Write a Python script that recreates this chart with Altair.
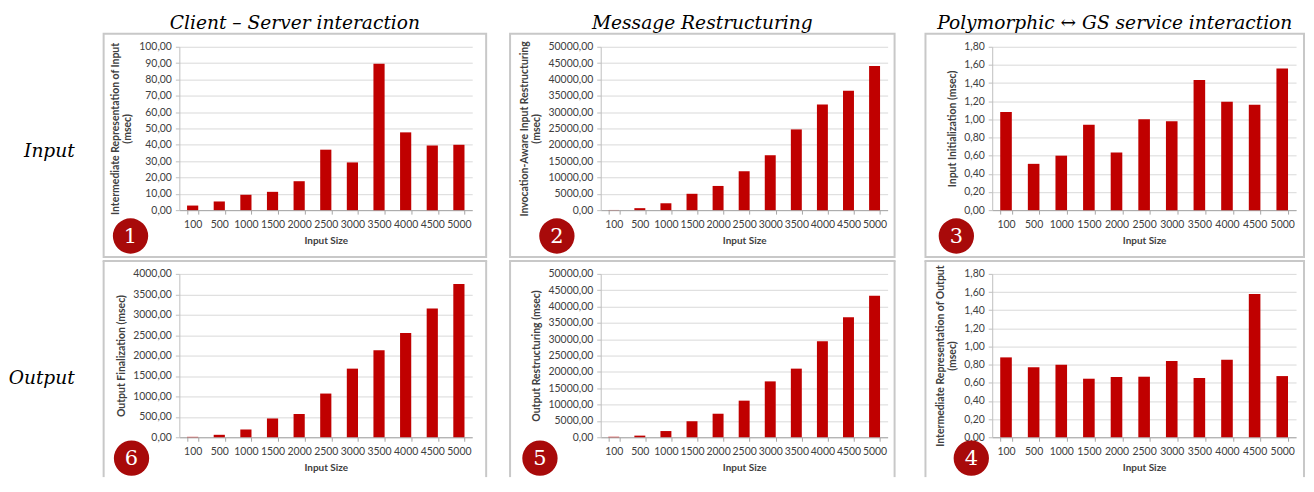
import altair as alt
import pandas as pd

# ---------------- data ----------------
sizes = ["100", "500", "1000", "1500", "2000", "2500", "3000", "3500", "4000", "4500", "5000"]

cs_input = [2.8, 5.3, 9.4, 11.2, 17.7, 37.0, 29.2, 89.6, 47.6, 39.5, 40.0]          # panel 1
mr_input = [50, 600, 2100, 5000, 7400, 11900, 16800, 24700, 32300, 36500, 44100]     # panel 2
pg_input = [1.08, 0.51, 0.60, 0.94, 0.635, 1.00, 0.98, 1.435, 1.195, 1.16, 1.56]     # panel 3
pg_output = [0.88, 0.77, 0.80, 0.645, 0.663, 0.667, 0.84, 0.652, 0.855, 1.578, 0.674]  # panel 4
mr_output = [150, 500, 1900, 4900, 7200, 11200, 17100, 21000, 29400, 36700, 43300]   # panel 5
cs_output = [10, 60, 190, 460, 570, 1070, 1680, 2130, 2550, 3150, 3750]              # panel 6

ticks_100 = [0, 10, 20, 30, 40, 50, 60, 70, 80, 90, 100]
ticks_50000 = [0, 5000, 10000, 15000, 20000, 25000, 30000, 35000, 40000, 45000, 50000]
ticks_4000 = [0, 500, 1000, 1500, 2000, 2500, 3000, 3500, 4000]
ticks_18 = [0, 0.2, 0.4, 0.6, 0.8, 1.0, 1.2, 1.4, 1.6, 1.8]

col_titles = ["Client \u2013 Server interaction", "Message Restructuring",
              "Polymorphic \u2194 GS service interaction"]
row_titles = ["Input", "Output"]

# ---------------- style ----------------
BAR = "#C00000"
CIRCLE = "#A80A0A"
BOX = "#C8C8C8"
SANS = "Lato"
SERIF = "DejaVu Serif"
TXT = "#404040"
H = 164

one = pd.DataFrame({"k": [0]})


def vrule(x, y1, y2):
    return alt.Chart(one).mark_rule(color=BOX, strokeWidth=2).encode(
        x=alt.value(x), y=alt.value(y1), y2=alt.value(y2))


def panel(values, ytitle, ymax, ticks, w, box_l, box_r, circ, num, open_bottom=False,
          coltitle=None, coltitle_x=None, rowlabel=None, rowlabel_x=None, rowlabel_y=None,
          ext_l=None, ext_r=None, top_ext=None):
    df = pd.DataFrame({"size": sizes, "v": values})
    layers = []
    # invisible extents used to steer the concat layout
    if ext_l is not None or ext_r is not None or top_ext is not None:
        xa = ext_l if ext_l is not None else 0
        xb = ext_r if ext_r is not None else xa + 4
        ya = top_ext if top_ext is not None else 0
        layers.append(alt.Chart(one).mark_rect(fill="white", opacity=0).encode(
            x=alt.value(xa), x2=alt.value(xb), y=alt.value(ya), y2=alt.value(ya + 4)))
    # panel frame
    if open_bottom:
        bottom = H + 40
        layers.append(alt.Chart(one).mark_rule(color=BOX, strokeWidth=2).encode(
            x=alt.value(box_l - 1), x2=alt.value(w + box_r + 1), y=alt.value(-13)))
        layers.append(vrule(box_l, -13, bottom))
        layers.append(vrule(w + box_r, -13, bottom))
    else:
        layers.append(alt.Chart(one).mark_rect(fill="white", fillOpacity=0, stroke=BOX,
                                               strokeWidth=2).encode(
            x=alt.value(box_l), x2=alt.value(w + box_r), y=alt.value(-13), y2=alt.value(H + 47)))
    bars = alt.Chart(df).mark_bar(color=BAR).encode(
        x=alt.X("size:N", sort=sizes, title="Input Size",
                scale=alt.Scale(paddingInner=0.58, paddingOuter=0.29),
                axis=alt.Axis(labelAngle=0, tickBand="extent", domainColor="#A6A6A6",
                              tickColor="#A6A6A6", tickSize=4, labelFont=SANS,
                              labelFontSize=10.5, labelColor=TXT, labelPadding=5,
                              titleFont=SANS, titleFontSize=10, titleFontWeight="bold",
                              titleColor=TXT, titlePadding=6, grid=False)),
        y=alt.Y("v:Q", title=ytitle, scale=alt.Scale(domain=[0, ymax], nice=False, zero=True),
                axis=alt.Axis(values=ticks,
                              labelExpr="replace(format(datum.value, '.2f'), '.', ',')",
                              gridColor="#D9D9D9", domainColor="#BFBFBF", tickColor="#BFBFBF",
                              tickSize=4, labelFont=SANS, labelFontSize=10.5, labelColor=TXT,
                              labelPadding=4, titleFont=SANS, titleFontSize=10.5,
                              titleFontWeight="bold", titleColor=TXT, titlePadding=6,
                              titleLineHeight=12)),
    )
    layers.append(bars)
    # numbered red badge
    layers.append(alt.Chart(one).mark_circle(size=1257, color=CIRCLE, opacity=1).encode(
        x=alt.value(circ[0]), y=alt.value(circ[1])))
    layers.append(alt.Chart(one).mark_text(font=SERIF, fontSize=21, color="white",
                                           align="center", baseline="middle").encode(
        x=alt.value(circ[0]), y=alt.value(circ[1] + 1), text=alt.value(num)))
    if coltitle is not None:
        layers.append(alt.Chart(one).mark_text(font=SERIF, fontStyle="italic", fontSize=18.7,
                                               color="black", align="center",
                                               baseline="top").encode(
            x=alt.value(coltitle_x), y=alt.value(-33), text=alt.value(coltitle)))
    if rowlabel is not None:
        layers.append(alt.Chart(one).mark_text(font=SERIF, fontStyle="italic", fontSize=18.7,
                                               color="black", align="right",
                                               baseline="alphabetic").encode(
            x=alt.value(rowlabel_x), y=alt.value(rowlabel_y), text=alt.value(rowlabel)))
    return alt.layer(*layers).properties(width=w, height=H)


p1 = panel(cs_input, ["Intermediate Representation of Input", "(msec)"], 100, ticks_100,
           294, -76, 14, (-49, 190), "1", coltitle=col_titles[0], coltitle_x=116,
           rowlabel=row_titles[0], rowlabel_x=-105, rowlabel_y=111, ext_l=-170, top_ext=-38)
p2 = panel(mr_input, ["Invocation-Aware Input Restructuring", "(msec)"], 50000, ticks_50000,
           288, -91, 7, (-44, 190), "2", coltitle=col_titles[1], coltitle_x=102,
           ext_l=290, ext_r=304, top_ext=-38)
p3 = panel(pg_input, "Input Initialization (msec)", 1.8, ticks_18,
           305, -67, 8, (-36, 190), "3", coltitle=col_titles[2], coltitle_x=123,
           top_ext=-38)
p6 = panel(cs_output, "Output Finalization (msec)", 4000, ticks_4000,
           294, -76, 14, (-48, 185), "6", open_bottom=True,
           rowlabel=row_titles[1], rowlabel_x=-105, rowlabel_y=111, ext_l=-170)
p5 = panel(mr_output, "Output Restructuring (msec)", 50000, ticks_50000,
           288, -91, 7, (-61, 185), "5", open_bottom=True, ext_l=290, ext_r=304)
p4 = panel(pg_output, ["Intermediate Representation of Output", "(msec)"], 1.8, ticks_18,
           305, -67, 8, (-21, 185), "4", open_bottom=True)

chart = alt.concat(p1, p2, p3, p6, p5, p4, columns=3, align="each",
                   spacing={"row": 2, "column": 20}).properties(
    padding=0, background="white"
).configure_view(strokeWidth=0)

chart.save("out.html", embed_options={"renderer": "svg", "actions": False})
